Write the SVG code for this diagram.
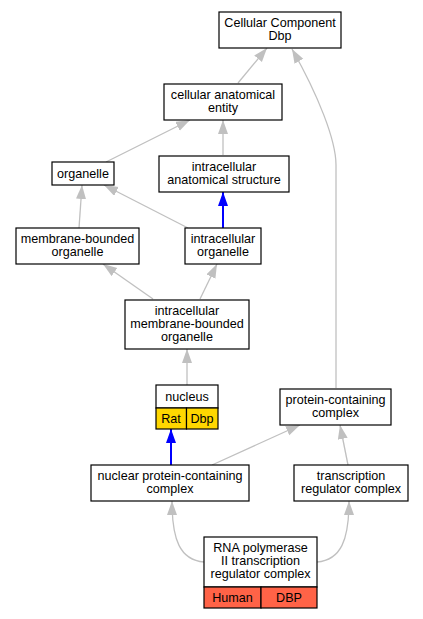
<svg xmlns="http://www.w3.org/2000/svg" width="423" height="619" viewBox="0 0 423 619">
<defs>
<marker id="ag" markerUnits="userSpaceOnUse" markerWidth="16" markerHeight="12" refX="14" refY="5" orient="auto"><path d="M0,0 L14,5 L0,10 z" fill="#c0c0c0"/></marker>
<marker id="ab" markerUnits="userSpaceOnUse" markerWidth="16" markerHeight="12" refX="14" refY="5" orient="auto"><path d="M0,0 L14,5 L0,10 z" fill="#0000ff"/></marker>
</defs>
<style>
rect{fill:#fff;stroke:#000;stroke-width:1.2}
text{font-family:"Liberation Sans",Arial,sans-serif;font-size:12.6px;text-anchor:middle;fill:#000}
.g{fill:none;stroke:#c0c0c0;stroke-width:1.3;marker-end:url(#ag)}
.b{fill:none;stroke:#0000ff;stroke-width:2;marker-end:url(#ab)}
.y{fill:#ffd700}
.r{fill:#ff6347}
</style>
<g id="edges">
<path class="g" d="M238,83 L267,48"/>
<path class="g" d="M336,388 L336,165 C336,140 318,95 292,49"/>
<path class="g" d="M106,162 L190,120"/>
<path class="g" d="M223,155 L223,120"/>
<path class="g" d="M79,228 L82,185"/>
<path class="g" d="M188,228 L104,185"/>
<path class="b" d="M223,228 L223,192"/>
<path class="g" d="M153,299 L103,264"/>
<path class="g" d="M200,299 L217,264"/>
<path class="g" d="M187,385 L187,349"/>
<path class="b" d="M171,465 L171,429"/>
<path class="g" d="M212,465 L300,425"/>
<path class="g" d="M348,465 L340,425"/>
<path class="g" d="M204,562 C180,560 172,540 172,501"/>
<path class="g" d="M317,562 C341,560 349,540 349,501"/>
</g>
<g id="cc"><rect x="219" y="12" width="122" height="36"/><text x="280" y="27">Cellular Component</text><text x="280" y="40">Dbp</text></g>
<g id="cae"><rect x="164" y="84" width="118" height="36"/><text x="223" y="99">cellular anatomical</text><text x="223" y="112">entity</text></g>
<g id="org"><rect x="52" y="162" width="62" height="23"/><text x="83" y="177.5">organelle</text></g>
<g id="ias"><rect x="159" y="156" width="130" height="36"/><text x="224" y="171">intracellular</text><text x="224" y="184">anatomical structure</text></g>
<g id="mbo"><rect x="16" y="228" width="123" height="36"/><text x="77.5" y="243">membrane-bounded</text><text x="77.5" y="256">organelle</text></g>
<g id="io"><rect x="185" y="228" width="76" height="36"/><text x="223" y="243">intracellular</text><text x="223" y="256">organelle</text></g>
<g id="imbo"><rect x="125" y="300" width="124" height="49"/><text x="187" y="314.5">intracellular</text><text x="187" y="327.8">membrane-bounded</text><text x="187" y="341.1">organelle</text></g>
<g id="nucleus"><rect x="156" y="385" width="62" height="23"/><text x="187" y="400.5">nucleus</text><rect class="y" x="156" y="408" width="30.5" height="21"/><rect class="y" x="186.5" y="408" width="31.5" height="21"/><text x="171" y="422.5">Rat</text><text x="202" y="422.5">Dbp</text></g>
<g id="pcc"><rect x="280" y="389" width="111" height="36"/><text x="335.5" y="404">protein-containing</text><text x="335.5" y="417">complex</text></g>
<g id="npcc"><rect x="91" y="465" width="158" height="36"/><text x="170" y="480">nuclear protein-containing</text><text x="170" y="493">complex</text></g>
<g id="trc"><rect x="294" y="465" width="114" height="36"/><text x="351" y="480">transcription</text><text x="351" y="493">regulator complex</text></g>
<g id="rna"><rect x="204" y="537" width="113" height="50"/><text x="260.5" y="551.5">RNA polymerase</text><text x="260.5" y="564.8">II transcription</text><text x="260.5" y="578.1">regulator complex</text><rect class="r" x="204" y="587" width="57" height="21"/><rect class="r" x="261" y="587" width="56" height="21"/><text x="232.5" y="601.5">Human</text><text x="289" y="601.5">DBP</text></g>
</svg>
